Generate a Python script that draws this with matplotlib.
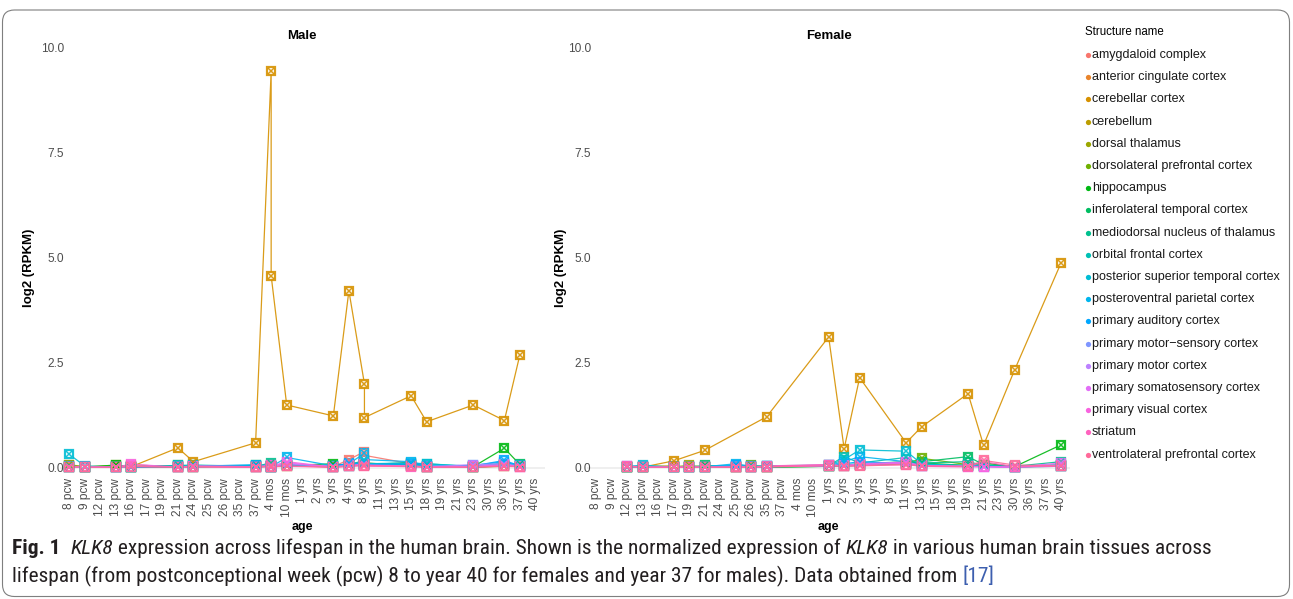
import numpy as np
import matplotlib
matplotlib.use("Agg")
import matplotlib.pyplot as plt
from matplotlib import font_manager
from matplotlib.patches import FancyBboxPatch
from matplotlib.transforms import IdentityTransform

# ---- data (log2 RPKM of KLK8) ----
age_levels = ["8 pcw", "9 pcw", "12 pcw", "13 pcw", "16 pcw", "17 pcw", "19 pcw",
              "21 pcw", "24 pcw", "25 pcw", "26 pcw", "35 pcw", "37 pcw", "4 mos",
              "10 mos", "1 yrs", "2 yrs", "3 yrs", "4 yrs", "8 yrs", "11 yrs", "13 yrs",
              "15 yrs", "18 yrs", "19 yrs", "21 yrs", "23 yrs", "30 yrs", "36 yrs",
              "37 yrs", "40 yrs"]

structures = ["amygdaloid complex", "anterior cingulate cortex", "cerebellar cortex",
              "cerebellum", "dorsal thalamus", "dorsolateral prefrontal cortex",
              "hippocampus", "inferolateral temporal cortex",
              "mediodorsal nucleus of thalamus", "orbital frontal cortex",
              "posterior superior temporal cortex", "posteroventral parietal cortex",
              "primary auditory cortex", "primary motor\u2212sensory cortex",
              "primary motor cortex", "primary somatosensory cortex",
              "primary visual cortex", "striatum", "ventrolateral prefrontal cortex"]

N = None
male_ages = ["8 pcw", "9 pcw", "13 pcw", "16 pcw", "21 pcw", "24 pcw", "37 pcw",
             "4 mos", "4 mos", "10 mos", "3 yrs", "4 yrs", "8 yrs", "8 yrs",
             "15 yrs", "18 yrs", "23 yrs", "36 yrs", "37 yrs"]
male_expr = [
    [0.03, 0.02, 0.02, 0.08, 0.02, 0.04, 0.03, 0.05, 0.04, 0.06, 0.03, 0.20, 0.39, 0.30, 0.10, 0.03, 0.02, 0.06, 0.04],
    [0.05, 0.03, 0.03, 0.04, 0.02, 0.03, 0.02, 0.04, 0.03, 0.05, 0.03, 0.08, 0.15, 0.12, 0.05, 0.02, 0.02, 0.05, 0.07],
    [N, N, N, 0.03, 0.48, 0.15, 0.60, 9.45, 4.58, 1.50, 1.24, 4.22, 2.00, 1.20, 1.72, 1.10, 1.50, 1.13, 2.70],
    [0.06, 0.02, 0.04, N, N, N, N, N, N, N, N, N, N, N, N, N, N, N, N],
    [0.08, 0.03, 0.06, 0.03, 0.06, 0.02, 0.05, N, N, N, N, N, N, N, N, N, N, N, N],
    [0.02, 0.02, 0.02, 0.02, 0.03, 0.04, 0.03, 0.04, 0.03, 0.05, 0.03, 0.06, 0.10, 0.08, 0.05, 0.03, 0.02, 0.04, 0.04],
    [0.02, 0.02, 0.07, 0.02, 0.02, 0.03, 0.06, 0.03, 0.03, 0.06, 0.10, 0.05, 0.08, 0.06, 0.10, 0.03, 0.03, 0.47, 0.08],
    [0.02, 0.02, 0.03, 0.02, 0.05, 0.06, 0.04, 0.05, 0.05, 0.07, 0.04, 0.06, 0.10, 0.08, 0.13, 0.03, 0.02, 0.08, 0.10],
    [N, N, N, N, N, N, 0.03, 0.13, 0.05, 0.06, 0.03, 0.08, 0.18, 0.12, 0.06, 0.04, 0.02, 0.06, 0.05],
    [0.03, 0.03, 0.02, 0.03, 0.06, 0.07, 0.04, 0.05, 0.03, 0.08, 0.04, 0.05, 0.12, 0.10, 0.08, 0.10, 0.03, 0.10, 0.06],
    [0.33, 0.05, 0.02, 0.02, 0.04, 0.05, 0.05, 0.03, 0.04, 0.06, 0.03, 0.07, 0.15, 0.10, 0.12, 0.10, 0.04, 0.12, 0.05],
    [0.04, 0.03, 0.02, 0.03, 0.04, 0.04, 0.08, 0.05, 0.03, 0.25, 0.05, 0.10, 0.35, 0.20, 0.15, 0.05, 0.06, 0.15, 0.04],
    [0.02, 0.02, 0.02, 0.02, 0.03, 0.03, 0.05, 0.04, 0.03, 0.08, 0.04, 0.12, 0.10, 0.08, 0.10, 0.04, 0.05, 0.18, 0.05],
    [0.03, 0.02, 0.02, 0.02, N, N, N, N, N, N, N, N, N, N, N, N, N, N, N],
    [N, N, N, N, 0.02, 0.03, 0.02, 0.04, 0.03, 0.10, 0.03, 0.05, 0.08, 0.06, 0.05, 0.03, 0.08, 0.10, 0.04],
    [N, N, N, N, 0.02, 0.04, 0.03, 0.05, 0.02, 0.12, 0.03, 0.06, 0.09, 0.07, 0.05, 0.02, 0.04, 0.08, 0.03],
    [0.03, 0.02, 0.02, 0.09, 0.02, 0.05, 0.03, 0.06, 0.04, 0.15, 0.02, 0.05, 0.08, 0.06, 0.04, 0.02, 0.03, 0.07, 0.03],
    [0.02, 0.02, 0.02, 0.04, 0.02, 0.03, 0.02, 0.05, 0.03, 0.04, 0.02, 0.04, 0.06, 0.05, 0.03, 0.02, 0.02, 0.05, 0.03],
    [0.03, 0.02, 0.02, 0.03, 0.02, 0.03, 0.02, 0.04, 0.03, 0.05, 0.02, 0.04, 0.06, 0.05, 0.04, 0.02, 0.02, 0.04, 0.03],
]

female_ages = ["12 pcw", "13 pcw", "17 pcw", "19 pcw", "21 pcw", "25 pcw", "26 pcw",
               "35 pcw", "1 yrs", "2 yrs", "3 yrs", "11 yrs", "13 yrs", "19 yrs",
               "21 yrs", "30 yrs", "40 yrs"]
female_expr = [
    [0.03, 0.02, 0.02, 0.02, 0.03, 0.03, 0.02, 0.03, 0.05, 0.06, 0.08, 0.15, 0.05, 0.04, 0.06, 0.03, 0.05],
    [0.02, 0.02, 0.04, 0.02, 0.02, 0.03, 0.02, 0.03, 0.04, 0.05, 0.07, 0.10, 0.06, 0.05, 0.04, 0.03, 0.04],
    [N, 0.02, 0.17, N, 0.42, N, N, 1.22, 3.12, 0.46, 2.15, 0.60, 0.98, 1.77, 0.54, 2.33, 4.88],
    [0.03, N, 0.05, N, N, N, N, N, N, N, N, N, N, N, N, N, N],
    [0.02, 0.03, 0.03, 0.06, 0.02, 0.02, 0.03, 0.02, N, N, N, N, N, N, N, N, N],
    [0.02, 0.02, 0.02, 0.03, 0.02, 0.03, 0.06, 0.03, 0.05, 0.06, 0.08, 0.10, 0.23, 0.08, 0.05, 0.03, 0.06],
    [0.02, 0.02, 0.02, 0.02, 0.03, 0.02, 0.02, 0.02, 0.04, 0.05, 0.06, 0.10, 0.12, 0.06, 0.12, 0.03, 0.55],
    [0.02, 0.02, 0.02, 0.02, 0.06, 0.03, 0.02, 0.02, 0.04, 0.06, 0.08, 0.12, 0.15, 0.27, 0.08, 0.04, 0.08],
    [N, N, N, N, N, N, N, N, 0.05, 0.08, 0.10, 0.15, 0.12, 0.15, 0.06, 0.04, 0.15],
    [0.02, 0.03, 0.02, 0.02, 0.03, 0.04, 0.03, 0.04, 0.06, 0.27, 0.12, 0.25, 0.08, 0.06, 0.04, 0.03, 0.05],
    [0.03, 0.07, 0.02, 0.02, 0.03, 0.05, 0.04, 0.05, 0.07, 0.20, 0.43, 0.40, 0.10, 0.05, 0.04, 0.03, 0.05],
    [0.02, 0.03, 0.02, 0.02, 0.03, 0.10, 0.04, 0.04, 0.06, 0.15, 0.27, 0.15, 0.06, 0.05, 0.04, 0.03, 0.04],
    [0.05, 0.03, 0.02, 0.02, 0.03, 0.06, 0.03, 0.04, 0.05, 0.10, 0.15, 0.10, 0.05, 0.04, 0.04, 0.03, 0.04],
    [0.03, 0.02, 0.02, 0.02, 0.02, N, N, N, N, N, N, N, N, N, N, N, N],
    [N, N, N, N, N, 0.02, 0.03, 0.03, 0.05, 0.06, 0.08, 0.12, 0.05, 0.04, 0.03, 0.02, 0.08],
    [N, N, N, N, N, 0.02, 0.02, 0.03, 0.06, 0.05, 0.10, 0.14, 0.06, 0.04, 0.03, 0.02, 0.12],
    [0.05, 0.02, 0.02, 0.02, 0.02, 0.03, 0.02, 0.03, 0.08, 0.05, 0.08, 0.12, 0.04, 0.03, 0.03, 0.02, 0.06],
    [0.04, 0.02, 0.02, 0.02, 0.02, 0.02, 0.02, 0.05, 0.08, 0.04, 0.06, 0.08, 0.04, 0.03, 0.15, 0.03, 0.04],
    [0.03, 0.02, 0.02, 0.02, 0.02, 0.02, 0.02, 0.03, 0.05, 0.04, 0.05, 0.08, 0.05, 0.04, 0.18, 0.07, 0.05],
]


def hcl_to_hex(h, c=100.0, l=65.0):
    # polarLUV -> sRGB, same as R's hcl() used by ggplot's hue palette
    hr = np.deg2rad(h)
    u, v = c * np.cos(hr), c * np.sin(hr)
    xn, yn, zn = 95.047, 100.0, 108.883
    y = yn * ((l + 16) / 116) ** 3
    un = 4 * xn / (xn + 15 * yn + 3 * zn)
    vn = 9 * yn / (xn + 15 * yn + 3 * zn)
    up = u / (13 * l) + un
    vp = v / (13 * l) + vn
    x = y * 9 * up / (4 * vp)
    z = y * (12 - 3 * up - 20 * vp) / (4 * vp)
    x, y, z = x / 100, y / 100, z / 100
    r = 3.2404542 * x - 1.5371385 * y - 0.4985314 * z
    g = -0.9692660 * x + 1.8760108 * y + 0.0415560 * z
    b = 0.0556434 * x - 0.2040259 * y + 1.0572252 * z
    out = []
    for ch in (r, g, b):
        ch = 12.92 * ch if ch <= 0.0031308 else 1.055 * ch ** (1 / 2.4) - 0.055
        out.append(min(max(ch, 0), 1))
    return matplotlib.colors.to_hex(out)


def pick_font(names):
    for n in names:
        try:
            font_manager.findfont(n, fallback_to_default=False)
            return n
        except Exception:
            pass
    return "DejaVu Sans"


hues = np.linspace(15, 375, len(structures) + 1)[:-1]
colors = [hcl_to_hex(h) for h in hues]

sans = pick_font(["Liberation Sans", "Arial"])
narrow = pick_font(["Liberation Sans Narrow", "Roboto Condensed", "Liberation Sans"])
plt.rcParams["font.family"] = [sans, "DejaVu Sans"]

W, H = 1293, 599
fig = plt.figure(figsize=(W / 100, H / 100), dpi=100)

pos = {"Male": [59.7 / W, 0.2082, 485.1 / W, 0.7187],
       "Female": [587.0 / W, 0.2082, 483.3 / W, 0.7187]}
panels = [("Male", male_ages, male_expr, -0.051),
          ("Female", female_ages, female_expr, -0.041)]

for title, ages, expr, ylab_x in panels:
    ax = fig.add_axes(pos[title])
    xs = np.array([age_levels.index(a) for a in ages])
    ax.axhline(0, color="#EBEBEB", lw=1.1, zorder=0)
    for row, col in zip(expr, colors):
        m = np.array([v is not None for v in row])
        vals = np.array([v if v is not None else np.nan for v in row], dtype=float)
        ax.plot(xs[m], vals[m], color=col, lw=0.9, alpha=0.9, zorder=2)
    for row, col in zip(expr, colors):
        m = np.array([v is not None for v in row])
        vals = np.array([v if v is not None else np.nan for v in row], dtype=float)
        ax.plot(xs[m], vals[m], ls="none", marker="s", ms=5.8, mfc="white",
                mec=col, mew=1.6, alpha=0.9, zorder=3)
        ax.plot(xs[m], vals[m], ls="none", marker="x", ms=4.2, mec=col,
                mew=1.1, alpha=0.9, zorder=4)
    ax.set_xlim(-0.6, len(age_levels) - 0.4)
    ax.set_ylim(-0.15, 10.1)
    ax.set_xticks(range(len(age_levels)))
    ax.set_xticklabels(age_levels, rotation=90)
    ax.set_yticks([0, 2.5, 5, 7.5, 10])
    ax.set_yticklabels(["0.0", "2.5", "5.0", "7.5", "10.0"])
    ax.tick_params(axis="both", length=0, labelsize=8.6, colors="#4D4D4D")
    ax.tick_params(axis="x", pad=2.5)
    ax.tick_params(axis="y", pad=-3)
    for s in ax.spines.values():
        s.set_visible(False)
    ax.set_facecolor("none")
    ax.set_title(title, fontsize=9.5, fontweight="bold", pad=3.5)
    ax.set_ylabel("log2 (RPKM)", fontsize=9.5, fontweight="bold")
    ax.yaxis.set_label_coords(ylab_x, 0.479)
    ax.set_xlabel("age", fontsize=9, fontweight="bold", va="center")
    ax.xaxis.set_label_coords(0.5, -0.122)

# legend, drawn by hand to sit like the ggplot guide
fig.text(1085 / W, 1 - 32 / H, "Structure name", fontsize=8.3, va="center", ha="left")
for i, (name, col) in enumerate(zip(structures, colors)):
    yy = 1 - (55 + i * 22.2) / H
    fig.lines.append(plt.Line2D([1087.5 / W], [yy], marker="o", ms=3.8, color=col,
                                mec="none", transform=fig.transFigure))
    fig.text(1092 / W, yy, name, fontsize=9, va="center", ha="left", color="#1A1A1A")

# frame around the figure panel
fig.patches.append(FancyBboxPatch((2.5, 2.5), 1287, 586.5,
                                  boxstyle="round,pad=0,rounding_size=12",
                                  transform=IdentityTransform(), fill=False,
                                  ec="#7F7F7F", lw=0.8))

# caption with mixed styles
renderer = fig.canvas.get_renderer()
line1 = [("Fig. 1", {"fontweight": "bold"}), ("  ", {}), ("KLK8", {"style": "italic"}),
         (" expression across lifespan in the human brain. Shown is the normalized expression of ", {}),
         ("KLK8", {"style": "italic"}), (" in various human brain tissues across", {})]
line2 = [("lifespan (from postconceptional week (pcw) 8 to year 40 for females and year 37 "
          "for males). Data obtained from ", {}), ("[17]", {"color": "#3D5FAF"})]


def draw_runs(runs, x0, y, size):
    x = x0
    made = []
    for txt, kw in runs:
        kw = dict(kw)
        kw.setdefault("color", "#231F20")
        t = fig.text(x / W, 1 - y / H, txt, fontsize=size, va="center", ha="left",
                     family=[narrow, "DejaVu Sans"], **kw)
        bb = t.get_window_extent(renderer)
        x = bb.x1
        made.append(t)
    return made, x - x0


test, width = draw_runs(line1, 12, 548, 12)
for t in test:
    t.remove()
size = 12 * 1201 / width
draw_runs(line1, 12, 548, size)
draw_runs(line2, 12, 576, size)

fig.savefig("out.png", dpi=100)
